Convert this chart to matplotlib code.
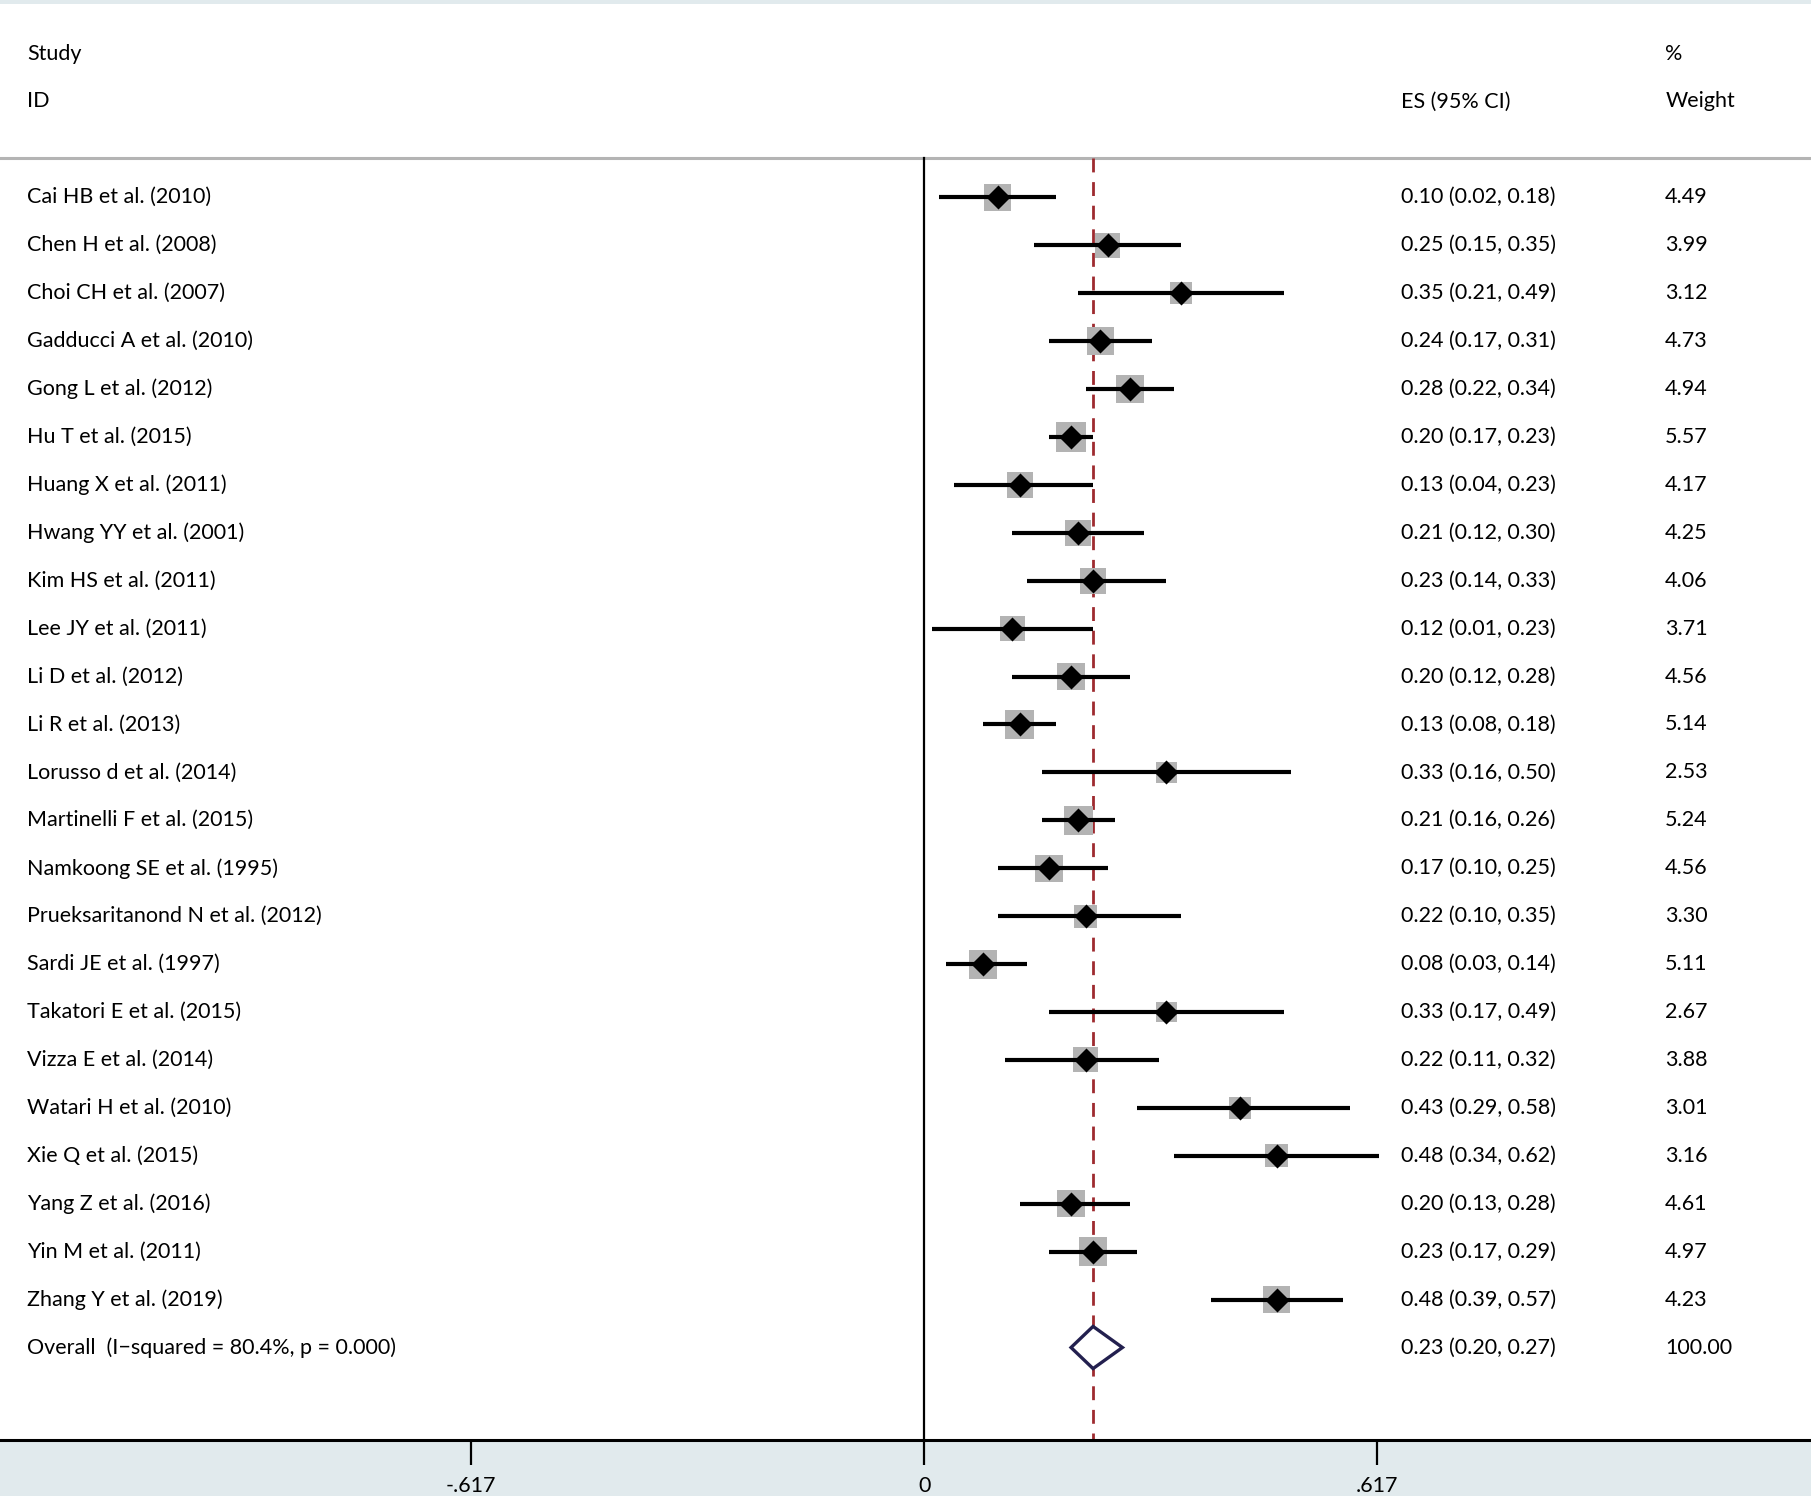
import numpy as np
import matplotlib
matplotlib.use("Agg")
import matplotlib.pyplot as plt

plt.rcParams['font.family'] = ['Lato', 'DejaVu Sans']

studies = ["Cai HB et al. (2010)", "Chen H et al. (2008)", "Choi CH et al. (2007)",
           "Gadducci A et al. (2010)", "Gong L et al. (2012)", "Hu T et al. (2015)",
           "Huang X et al. (2011)", "Hwang YY et al. (2001)", "Kim HS et al. (2011)",
           "Lee JY et al. (2011)", "Li D et al. (2012)", "Li R et al. (2013)",
           "Lorusso d et al. (2014)", "Martinelli F et al. (2015)", "Namkoong SE et al. (1995)",
           "Prueksaritanond N et al. (2012)", "Sardi JE et al. (1997)", "Takatori E et al. (2015)",
           "Vizza E et al. (2014)", "Watari H et al. (2010)", "Xie Q et al. (2015)",
           "Yang Z et al. (2016)", "Yin M et al. (2011)", "Zhang Y et al. (2019)"]
es = [0.10, 0.25, 0.35, 0.24, 0.28, 0.20, 0.13, 0.21, 0.23, 0.12, 0.20, 0.13,
      0.33, 0.21, 0.17, 0.22, 0.08, 0.33, 0.22, 0.43, 0.48, 0.20, 0.23, 0.48]
lo = [0.02, 0.15, 0.21, 0.17, 0.22, 0.17, 0.04, 0.12, 0.14, 0.01, 0.12, 0.08,
      0.16, 0.16, 0.10, 0.10, 0.03, 0.17, 0.11, 0.29, 0.34, 0.13, 0.17, 0.39]
hi = [0.18, 0.35, 0.49, 0.31, 0.34, 0.23, 0.23, 0.30, 0.33, 0.23, 0.28, 0.18,
      0.50, 0.26, 0.25, 0.35, 0.14, 0.49, 0.32, 0.58, 0.62, 0.28, 0.29, 0.57]
weights = [4.49, 3.99, 3.12, 4.73, 4.94, 5.57, 4.17, 4.25, 4.06, 3.71, 4.56, 5.14,
           2.53, 5.24, 4.56, 3.30, 5.11, 2.67, 3.88, 3.01, 3.16, 4.61, 4.97, 4.23]
overall_label = "Overall  (I\u2212squared = 80.4%, p = 0.000)"
overall_es, overall_lo, overall_hi = 0.23, 0.20, 0.27
xticks = [-0.617, 0, 0.617]
xticklabels = ["-.617", "0", ".617"]

fig = plt.figure(figsize=(18.11, 14.96), dpi=100, facecolor='#e1eaed')
ax = fig.add_axes([0, 56/1496, 1, 1436/1496])
ax.set_facecolor('white')

n = len(studies)
rows = np.arange(n)
ybot = n + 1.93
ax.set_xlim(-1.259, 1.208)
ax.set_ylim(ybot, -4.034)

sep_y = -0.82
ax.axhline(sep_y, color='#b4b4b4', lw=2.2)
ax.plot([0, 0], [sep_y, ybot], color='black', lw=1.6)
ax.plot([overall_es, overall_es], [sep_y, ybot], color='#9e2a2f', lw=2.0,
        dashes=(5, 3.5))

# CI lines, boxes, point estimates
for i in rows:
    ax.plot([lo[i], hi[i]], [i, i], color='black', lw=3, solid_capstyle='butt', zorder=3)
ax.scatter(es, rows, s=np.array(weights) * 84, marker='s', color='#b3b3b3', zorder=2,
           linewidths=0)
ax.scatter(es, rows, s=150, marker='D', color='black', zorder=4, linewidths=0)

# overall diamond
ax.fill([overall_lo, overall_es, overall_hi, overall_es, overall_lo],
        [n, n - 0.44, n, n + 0.44, n], facecolor='white', edgecolor='#23204f', lw=2.4,
        zorder=5)

tr = ax.get_yaxis_transform()
fs = 15.5
for i in rows:
    ax.text(0.0149, i, studies[i], transform=tr, va='center', ha='left', fontsize=fs)
    ax.text(0.7736, i, "%.2f (%.2f, %.2f)" % (es[i], lo[i], hi[i]), transform=tr,
            va='center', ha='left', fontsize=fs)
    ax.text(0.9195, i, "%.2f" % weights[i], transform=tr, va='center', ha='left', fontsize=fs)
ax.text(0.0149, n, overall_label, transform=tr, va='center', ha='left', fontsize=fs)
ax.text(0.7736, n, "%.2f (%.2f, %.2f)" % (overall_es, overall_lo, overall_hi), transform=tr,
        va='center', ha='left', fontsize=fs)
ax.text(0.9195, n, "100.00", transform=tr, va='center', ha='left', fontsize=fs)

ax.text(0.0149, -3.0, "Study", transform=tr, va='center', ha='left', fontsize=fs)
ax.text(0.0149, -2.0, "ID", transform=tr, va='center', ha='left', fontsize=fs)
ax.text(0.9195, -3.0, "%", transform=tr, va='center', ha='left', fontsize=fs)
ax.text(0.7736, -2.0, "ES (95% CI)", transform=tr, va='center', ha='left', fontsize=fs)
ax.text(0.9195, -2.0, "Weight", transform=tr, va='center', ha='left', fontsize=fs)

for s in ['top', 'left', 'right']:
    ax.spines[s].set_visible(False)
ax.spines['bottom'].set_linewidth(2.2)
ax.set_yticks([])
ax.set_xticks(xticks)
ax.set_xticklabels(xticklabels, fontsize=fs)
ax.tick_params(axis='x', direction='out', length=18, width=1.6, pad=8)

fig.savefig('out.png', dpi=100, facecolor=fig.get_facecolor())
